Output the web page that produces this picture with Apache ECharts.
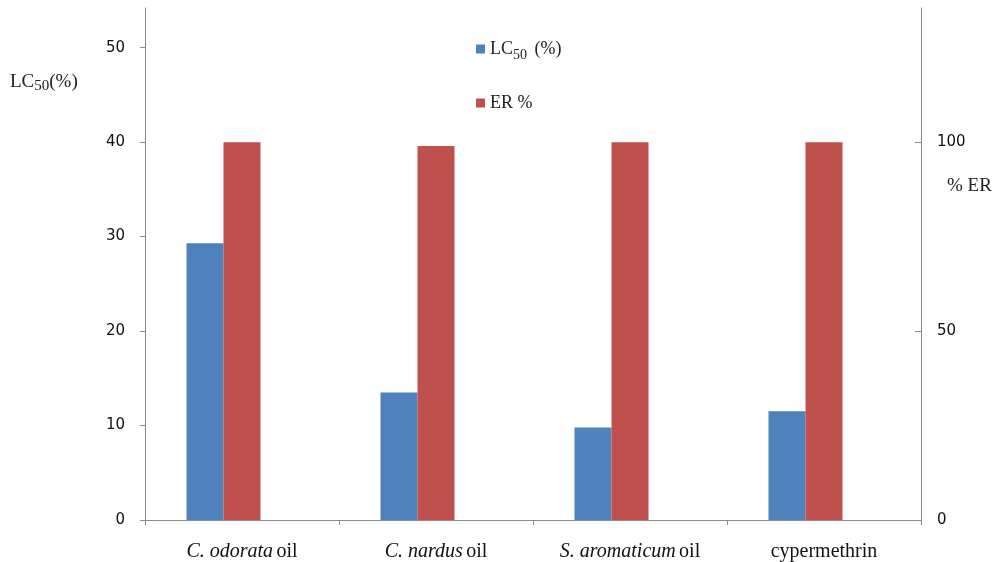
<!DOCTYPE html>
<html>
<head>
<meta charset="utf-8">
<script src="https://cdn.jsdelivr.net/npm/echarts@6/dist/echarts.min.js"></script>
<style>html,body{margin:0;padding:0;background:#fff;}#c{width:998px;height:562px;}</style>
</head>
<body>
<div id="c"></div>
<script>
const categories = ['C. odorata oil', 'C. nardus oil', 'S. aromaticum oil', 'cypermethrin'];
const catItalic = ['C. odorata', 'C. nardus', 'S. aromaticum', ''];
const catPlain = ['oil', 'oil', 'oil', 'cypermethrin'];
const lc50 = [29.3, 13.5, 9.8, 11.5];
const er = [100, 99, 100, 100];
const spacer = [null, null, null, null];
const leftTicks = [0, 10, 20, 30, 40, 50];
const rightTicks = [0, 50, 100];

const chart = echarts.init(document.getElementById('c'));
const serif = 'Liberation Serif';
const axisColor = '#8c8c8c';
chart.setOption({
  animation: false,
  backgroundColor: '#fff',
  grid: { left: 145, right: 77, top: 8, bottom: 42 },
  legend: {
    orient: 'vertical', left: 471, top: 35, itemGap: 32,
    icon: 'rect', itemWidth: 9, itemHeight: 9, itemGap: 32,
    data: ['LC50 (%)', 'ER %'],
    formatter: n => n === 'LC50 (%)' ? 'LC{s|50} (%)' : n,
    textStyle: { fontFamily: serif, fontSize: 18, color: '#222',
      rich: { s: { fontFamily: serif, fontSize: 14, color: '#222', padding: [12, 3, 0, 0] } } }
  },
  xAxis: {
    type: 'category', data: categories,
    axisLine: { lineStyle: { color: axisColor } },
    axisTick: { show: true, length: 5, lineStyle: { color: axisColor } },
    axisLabel: {
      margin: 22,
      formatter: (v, i) => catItalic[i] ? '{i|' + catItalic[i] + '} {n|' + catPlain[i] + '}' : '{n|' + catPlain[i] + '}',
      rich: {
        i: { fontFamily: serif, fontStyle: 'italic', fontSize: 20, color: '#111' },
        n: { fontFamily: serif, fontSize: 20, color: '#111' }
      }
    }
  },
  yAxis: [
    {
      type: 'value', min: 0, max: 54.2, interval: 10, position: 'left',
      splitLine: { show: false },
      axisLine: { show: true, lineStyle: { color: axisColor } },
      axisTick: { show: true, length: 5, customValues: leftTicks, lineStyle: { color: axisColor } },
      axisLabel: { customValues: leftTicks, margin: 20, fontFamily: 'DejaVu Sans', fontSize: 15, color: '#111' }
    },
    {
      type: 'value', min: 0, max: 135.5, interval: 50, position: 'right',
      splitLine: { show: false },
      axisLine: { show: true, lineStyle: { color: axisColor } },
      axisTick: { show: true, inside: true, length: 6, customValues: rightTicks, lineStyle: { color: axisColor } },
      axisLabel: { customValues: rightTicks, margin: 16, fontFamily: 'DejaVu Sans', fontSize: 15, color: '#111' }
    }
  ],
  graphic: [
    { type: 'text', left: 10, top: 73, style: { text: 'LC{s|50}(%)', fontFamily: serif, fontSize: 19, fill: '#222',
      rich: { s: { fontFamily: serif, fontSize: 15, fill: '#222', padding: [8, 0, 0, 0] } } } },
    { type: 'text', left: 947, top: 177, style: { text: '% ER', fontFamily: serif, fontSize: 19, fill: '#222' } }
  ],
  series: [
    { name: 'LC50 (%)', type: 'bar', yAxisIndex: 0, data: lc50, barWidth: 37, barGap: '0%', itemStyle: { color: '#4F81BD' } },
    { name: 'ER %', type: 'bar', yAxisIndex: 1, data: er, barWidth: 37, barGap: '0%', itemStyle: { color: '#C0504D' } },
    { name: 'spacer', type: 'bar', yAxisIndex: 0, data: spacer, barWidth: 37, barGap: '0%', itemStyle: { color: 'transparent' } }
  ]
});
</script>
</body>
</html>
